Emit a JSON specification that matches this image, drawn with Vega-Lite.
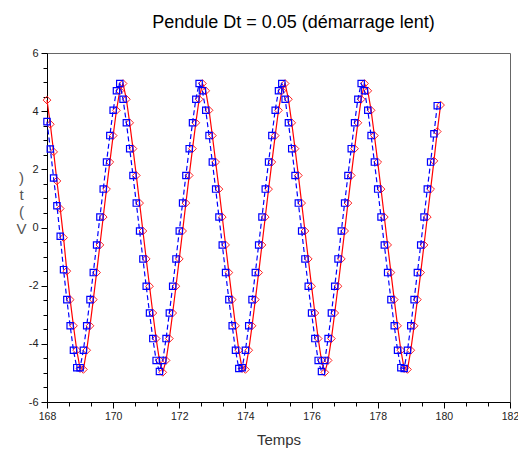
{
  "$schema": "https://vega.github.io/schema/vega-lite/v6.json",
  "autosize": {"type": "none"},
  "padding": {"left": 47, "top": 53, "right": 8, "bottom": 47},
  "width": 463,
  "height": 349,
  "background": "white",
  "config": {"view": {"stroke": "#666666", "strokeWidth": 1}, "font": "Liberation Sans"},
  "title": {"text": "Pendule Dt = 0.05 (démarrage lent)", "fontSize": 18, "fontWeight": "normal", "color": "#000000", "font": "Liberation Sans", "anchor": "middle", "frame": "group", "dx": 15, "offset": 1, "baseline": "alphabetic"},
  "datasets": {
    "blue": [
      {"t":168.0,"v":3.64},{"t":168.1,"v":2.7},{"t":168.2,"v":1.7},{"t":168.3,"v":0.75},{"t":168.4,"v":-0.3},{"t":168.5,"v":-1.45},{"t":168.6,"v":-2.48},{"t":168.7,"v":-3.38},{"t":168.8,"v":-4.22},{"t":168.9,"v":-4.82},
      {"t":169.0,"v":-4.82},{"t":169.1,"v":-4.22},{"t":169.2,"v":-3.38},{"t":169.3,"v":-2.48},{"t":169.4,"v":-1.55},{"t":169.5,"v":-0.6},{"t":169.6,"v":0.36},{"t":169.7,"v":1.32},{"t":169.8,"v":2.25},{"t":169.9,"v":3.16},
      {"t":170.0,"v":4.03},{"t":170.1,"v":4.7},{"t":170.2,"v":4.95},{"t":170.3,"v":4.41},{"t":170.4,"v":3.6},{"t":170.5,"v":2.71},{"t":170.6,"v":1.79},{"t":170.7,"v":0.84},{"t":170.8,"v":-0.12},{"t":170.9,"v":-1.08},
      {"t":171.0,"v":-2.02},{"t":171.1,"v":-2.94},{"t":171.2,"v":-3.82},{"t":171.3,"v":-4.57},{"t":171.4,"v":-4.95},{"t":171.5,"v":-4.57},{"t":171.6,"v":-3.82},{"t":171.7,"v":-2.94},{"t":171.8,"v":-2.02},{"t":171.9,"v":-1.08},
      {"t":172.0,"v":-0.12},{"t":172.1,"v":0.84},{"t":172.2,"v":1.79},{"t":172.3,"v":2.71},{"t":172.4,"v":3.6},{"t":172.5,"v":4.41},{"t":172.6,"v":4.95},{"t":172.7,"v":4.7},{"t":172.8,"v":4.03},{"t":172.9,"v":3.16},
      {"t":173.0,"v":2.25},{"t":173.1,"v":1.32},{"t":173.2,"v":0.36},{"t":173.3,"v":-0.6},{"t":173.4,"v":-1.55},{"t":173.5,"v":-2.48},{"t":173.6,"v":-3.38},{"t":173.7,"v":-4.22},{"t":173.8,"v":-4.85},{"t":173.9,"v":-4.82},
      {"t":174.0,"v":-4.22},{"t":174.1,"v":-3.38},{"t":174.2,"v":-2.48},{"t":174.3,"v":-1.55},{"t":174.4,"v":-0.6},{"t":174.5,"v":0.36},{"t":174.6,"v":1.32},{"t":174.7,"v":2.25},{"t":174.8,"v":3.16},{"t":174.9,"v":4.03},
      {"t":175.0,"v":4.7},{"t":175.1,"v":4.95},{"t":175.2,"v":4.41},{"t":175.3,"v":3.6},{"t":175.4,"v":2.71},{"t":175.5,"v":1.79},{"t":175.6,"v":0.84},{"t":175.7,"v":-0.12},{"t":175.8,"v":-1.08},{"t":175.9,"v":-2.02},
      {"t":176.0,"v":-2.94},{"t":176.1,"v":-3.82},{"t":176.2,"v":-4.57},{"t":176.3,"v":-4.95},{"t":176.4,"v":-4.57},{"t":176.5,"v":-3.82},{"t":176.6,"v":-2.94},{"t":176.7,"v":-2.02},{"t":176.8,"v":-1.08},{"t":176.9,"v":-0.12},
      {"t":177.0,"v":0.84},{"t":177.1,"v":1.79},{"t":177.2,"v":2.71},{"t":177.3,"v":3.6},{"t":177.4,"v":4.41},{"t":177.5,"v":4.95},{"t":177.6,"v":4.7},{"t":177.7,"v":4.03},{"t":177.8,"v":3.16},{"t":177.9,"v":2.25},
      {"t":178.0,"v":1.32},{"t":178.1,"v":0.36},{"t":178.2,"v":-0.6},{"t":178.3,"v":-1.55},{"t":178.4,"v":-2.48},{"t":178.5,"v":-3.38},{"t":178.6,"v":-4.22},{"t":178.7,"v":-4.82},{"t":178.8,"v":-4.85},{"t":178.9,"v":-4.22},
      {"t":179.0,"v":-3.38},{"t":179.1,"v":-2.48},{"t":179.2,"v":-1.55},{"t":179.3,"v":-0.6},{"t":179.4,"v":0.36},{"t":179.5,"v":1.32},{"t":179.6,"v":2.25},{"t":179.7,"v":3.22},{"t":179.8,"v":4.19}
    ],
    "red": [
      {"t":168.0,"v":4.38},{"t":168.1,"v":3.55},{"t":168.2,"v":2.6},{"t":168.3,"v":1.6},{"t":168.4,"v":0.65},{"t":168.5,"v":-0.35},{"t":168.6,"v":-1.5},{"t":168.7,"v":-2.48},{"t":168.8,"v":-3.38},{"t":168.9,"v":-4.22},
      {"t":169.0,"v":-4.85},{"t":169.1,"v":-4.88},{"t":169.2,"v":-4.22},{"t":169.3,"v":-3.38},{"t":169.4,"v":-2.48},{"t":169.5,"v":-1.55},{"t":169.6,"v":-0.6},{"t":169.7,"v":0.36},{"t":169.8,"v":1.32},{"t":169.9,"v":2.25},
      {"t":170.0,"v":3.16},{"t":170.1,"v":4.03},{"t":170.2,"v":4.7},{"t":170.3,"v":4.95},{"t":170.4,"v":4.41},{"t":170.5,"v":3.6},{"t":170.6,"v":2.71},{"t":170.7,"v":1.79},{"t":170.8,"v":0.84},{"t":170.9,"v":-0.12},
      {"t":171.0,"v":-1.08},{"t":171.1,"v":-2.02},{"t":171.2,"v":-2.94},{"t":171.3,"v":-3.82},{"t":171.4,"v":-4.57},{"t":171.5,"v":-4.98},{"t":171.6,"v":-4.57},{"t":171.7,"v":-3.82},{"t":171.8,"v":-2.94},{"t":171.9,"v":-2.02},
      {"t":172.0,"v":-1.08},{"t":172.1,"v":-0.12},{"t":172.2,"v":0.84},{"t":172.3,"v":1.79},{"t":172.4,"v":2.71},{"t":172.5,"v":3.6},{"t":172.6,"v":4.41},{"t":172.7,"v":4.95},{"t":172.8,"v":4.7},{"t":172.9,"v":4.03},
      {"t":173.0,"v":3.16},{"t":173.1,"v":2.25},{"t":173.2,"v":1.32},{"t":173.3,"v":0.36},{"t":173.4,"v":-0.6},{"t":173.5,"v":-1.55},{"t":173.6,"v":-2.48},{"t":173.7,"v":-3.38},{"t":173.8,"v":-4.22},{"t":173.9,"v":-4.85},
      {"t":174.0,"v":-4.88},{"t":174.1,"v":-4.22},{"t":174.2,"v":-3.38},{"t":174.3,"v":-2.48},{"t":174.4,"v":-1.55},{"t":174.5,"v":-0.6},{"t":174.6,"v":0.36},{"t":174.7,"v":1.32},{"t":174.8,"v":2.25},{"t":174.9,"v":3.16},
      {"t":175.0,"v":4.03},{"t":175.1,"v":4.7},{"t":175.2,"v":4.95},{"t":175.3,"v":4.41},{"t":175.4,"v":3.6},{"t":175.5,"v":2.71},{"t":175.6,"v":1.79},{"t":175.7,"v":0.84},{"t":175.8,"v":-0.12},{"t":175.9,"v":-1.08},
      {"t":176.0,"v":-2.02},{"t":176.1,"v":-2.94},{"t":176.2,"v":-3.82},{"t":176.3,"v":-4.57},{"t":176.4,"v":-4.98},{"t":176.5,"v":-4.57},{"t":176.6,"v":-3.82},{"t":176.7,"v":-2.94},{"t":176.8,"v":-2.02},{"t":176.9,"v":-1.08},
      {"t":177.0,"v":-0.12},{"t":177.1,"v":0.84},{"t":177.2,"v":1.79},{"t":177.3,"v":2.71},{"t":177.4,"v":3.6},{"t":177.5,"v":4.41},{"t":177.6,"v":4.95},{"t":177.7,"v":4.7},{"t":177.8,"v":4.03},{"t":177.9,"v":3.16},
      {"t":178.0,"v":2.25},{"t":178.1,"v":1.32},{"t":178.2,"v":0.36},{"t":178.3,"v":-0.6},{"t":178.4,"v":-1.55},{"t":178.5,"v":-2.48},{"t":178.6,"v":-3.38},{"t":178.7,"v":-4.22},{"t":178.8,"v":-4.85},{"t":178.9,"v":-4.88},
      {"t":179.0,"v":-4.22},{"t":179.1,"v":-3.38},{"t":179.2,"v":-2.48},{"t":179.3,"v":-1.55},{"t":179.4,"v":-0.6},{"t":179.5,"v":0.36},{"t":179.6,"v":1.32},{"t":179.7,"v":2.29},{"t":179.8,"v":3.3},{"t":179.9,"v":4.21}
    ]
  },
  "layer": [
    {
      "data": {"name": "red"},
      "mark": {"type": "line", "color": "#ff0000", "strokeWidth": 1.2},
      "encoding": {
        "x": {"field": "t", "type": "quantitative", "scale": {"domain": [168, 182], "nice": false, "zero": false},
          "axis": {"orient": "bottom", "values": [168.6667,169.3333,170.6667,171.3333,172.6667,173.3333,174.6667,175.3333,176.6667,177.3333,178.6667,179.3333,180.6667,181.3333], "labels": false, "domain": false, "grid": false, "ticks": true, "tickSize": 4, "tickColor": "#000000", "title": null}},
        "y": {"field": "v", "type": "quantitative", "scale": {"domain": [-6, 6], "nice": false, "zero": false},
          "axis": {"orient": "left", "values": [-5.5,-5,-4.5,-3.5,-3,-2.5,-1.5,-1,-0.5,0.5,1,1.5,2.5,3,3.5,4.5,5,5.5], "labels": false, "domain": false, "grid": false, "ticks": true, "tickSize": 4, "tickColor": "#000000", "title": null}}
      }
    },
    {
      "data": {"name": "red"},
      "mark": {"type": "point", "shape": "diamond", "filled": false, "stroke": "#ff2020", "strokeWidth": 1, "size": 60, "opacity": 1},
      "encoding": {
        "x": {"field": "t", "type": "quantitative", "axis": null},
        "y": {"field": "v", "type": "quantitative", "axis": null}
      }
    },
    {
      "data": {"name": "blue"},
      "mark": {"type": "line", "color": "#0000ff", "strokeWidth": 1.2, "strokeDash": [5, 3]},
      "encoding": {
        "x": {"field": "t", "type": "quantitative",
          "axis": {"orient": "bottom", "values": [168,170,172,174,176,178,180,182], "grid": false, "domain": true, "domainColor": "#000000", "domainWidth": 1, "tickColor": "#000000", "tickSize": 6, "labelFont": "Liberation Sans", "labelFontSize": 10.5, "labelColor": "#222222", "labelPadding": 3, "labelFlush": false,
            "title": "Temps", "titleFont": "Liberation Sans", "titleFontSize": 15, "titleFontWeight": "normal", "titleColor": "#333333", "titleX": 231.5, "titleY": 42, "titleAlign": "center", "titleBaseline": "alphabetic"}},
        "y": {"field": "v", "type": "quantitative",
          "axis": {"orient": "left", "values": [-6,-4,-2,0,2,4,6], "labelExpr": "'' + datum.value", "grid": false, "domain": true, "domainColor": "#000000", "domainWidth": 1, "tickColor": "#000000", "tickSize": 6, "labelFont": "Liberation Sans", "labelFontSize": 11, "labelColor": "#222222", "labelPadding": 3, "labelFlush": false,
            "title": [")", "t", "(", "V"], "titleFont": "Liberation Sans", "titleFontSize": 15, "titleFontWeight": "normal", "titleColor": "#555555", "titleAngle": 0, "titleX": -26, "titleY": 117, "titleAlign": "center", "titleBaseline": "top", "titleLineHeight": 17}}
      }
    },
    {
      "data": {"name": "blue"},
      "mark": {"type": "point", "shape": "square", "filled": false, "stroke": "#0000ff", "strokeWidth": 1.2, "size": 40, "opacity": 1},
      "encoding": {
        "x": {"field": "t", "type": "quantitative", "axis": null},
        "y": {"field": "v", "type": "quantitative", "axis": null}
      }
    }
  ],
  "resolve": {"axis": {"x": "independent", "y": "independent"}}
}
